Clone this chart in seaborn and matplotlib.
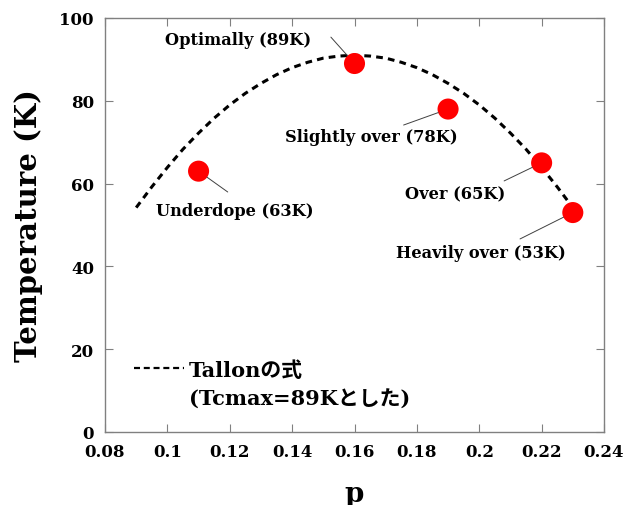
import matplotlib
matplotlib.use("Agg")
import matplotlib.pyplot as plt
from matplotlib.lines import Line2D
import seaborn as sns
import pandas as pd

# Tallon curve (Tc vs hole concentration p)
curve_p = [0.090, 0.095, 0.100, 0.105, 0.110, 0.115, 0.120, 0.125, 0.130, 0.135,
           0.140, 0.145, 0.150, 0.155, 0.160, 0.165, 0.170, 0.175, 0.180, 0.185,
           0.190, 0.195, 0.200, 0.205, 0.210, 0.215, 0.220, 0.225, 0.230]
curve_t = [54.2, 59.2, 63.9, 68.3, 72.2, 75.8, 79.0, 81.8, 84.2, 86.3,
           88.0, 89.3, 90.3, 90.8, 91.0, 90.8, 90.3, 89.3, 88.0, 86.3,
           84.2, 81.8, 79.0, 75.8, 72.2, 68.3, 63.9, 59.2, 54.2]

# Samples
sample_p = [0.11, 0.16, 0.19, 0.22, 0.23]
sample_t = [63, 89, 78, 65, 53]
sample_labels = ["Underdope (63K)", "Optimally (89K)", "Slightly over (78K)",
                 "Over (65K)", "Heavily over (53K)"]

x_ticks = [0.08, 0.10, 0.12, 0.14, 0.16, 0.18, 0.20, 0.22, 0.24]
x_tick_labels = ["0.08", "0.1", "0.12", "0.14", "0.16", "0.18", "0.2", "0.22", "0.24"]
y_ticks = [0, 20, 40, 60, 80, 100]
y_tick_labels = ["0", "20", "40", "60", "80", "100"]

legend_lines = ["Tallonの式", "(Tcmax=89Kとした)"]

sns.set_style("ticks")
plt.rcParams["font.family"] = ["DejaVu Serif", "Noto Sans CJK JP"]
plt.rcParams["font.weight"] = "bold"
plt.rcParams["text.color"] = "black"
plt.rcParams["axes.labelcolor"] = "black"
plt.rcParams["xtick.color"] = "black"
plt.rcParams["ytick.color"] = "black"

curve_df = pd.DataFrame({"p": curve_p, "T": curve_t})
sample_df = pd.DataFrame({"p": sample_p, "T": sample_t, "label": sample_labels})

fig = plt.figure(figsize=(6.25, 5.06), dpi=100)
ax = fig.add_axes([0.168, 0.1443, 0.7984, 0.8182])

sns.lineplot(data=curve_df, x="p", y="T", ax=ax, color="black", linewidth=2.2,
             dashes=False, zorder=2)
ax.lines[0].set_dashes((2.2, 1.7))
ax.lines[0].set_dash_capstyle("butt")

sns.scatterplot(data=sample_df, x="p", y="T", ax=ax, color="#ff0000", s=230,
                edgecolor="none", zorder=3, legend=False)

# label text offsets (points) from each marker, and leader-line start offsets
text_offsets = [(26, -28), (-84, 17), (-55, -20), (-62, -22), (-66, -29)]
leader_offsets = [(21, -15), (-17, 19), (-32, -11.5), (-27, -13), (-38, -19)]
for (px, pt, lab), toff, loff in zip(zip(sample_p, sample_t, sample_labels),
                                     text_offsets, leader_offsets):
    ax.annotate(lab, xy=(px, pt), xytext=toff, textcoords="offset points",
                ha="center", va="center", fontsize=11.7, color="black",
                fontweight="bold", zorder=4)
    ax.annotate("", xy=(px, pt), xytext=loff, textcoords="offset points",
                arrowprops=dict(arrowstyle="-", color="#404040", lw=0.7,
                                shrinkA=0, shrinkB=7.5), zorder=4)

ax.set_xlim(0.08, 0.24)
ax.set_ylim(0, 100)
ax.set_xticks(x_ticks)
ax.set_xticklabels(x_tick_labels, fontweight="bold")
ax.set_yticks(y_ticks)
ax.set_yticklabels(y_tick_labels, fontweight="bold")
ax.tick_params(axis="both", which="both", direction="in", length=6, width=0.8,
               color="#808080", labelcolor="black", labelsize=12,
               top=True, right=True)
ax.tick_params(axis="x", pad=8)
ax.tick_params(axis="y", pad=8)
for sp in ax.spines.values():
    sp.set_visible(True)
    sp.set_color("#808080")
    sp.set_linewidth(1.0)

ax.set_xlabel("p", fontsize=20, fontweight="bold", labelpad=14)
ax.set_ylabel("Temperature (K)", fontsize=21, fontweight="bold", labelpad=12)

handle1 = Line2D([], [], color="black", linewidth=1.6, dashes=(2.7, 1.7),
                 dash_capstyle="butt")
handle2 = Line2D([], [], color="none")
leg = ax.legend([handle1, handle2], legend_lines, loc="center left",
                bbox_to_anchor=(0.058, 0.115), frameon=False,
                prop={"size": 15, "weight": "bold"},
                handlelength=2.4, handletextpad=0.25, borderpad=0,
                borderaxespad=0, labelspacing=0.45)
for t in leg.get_texts():
    t.set_color("black")

fig.savefig("out.png", dpi=100)
